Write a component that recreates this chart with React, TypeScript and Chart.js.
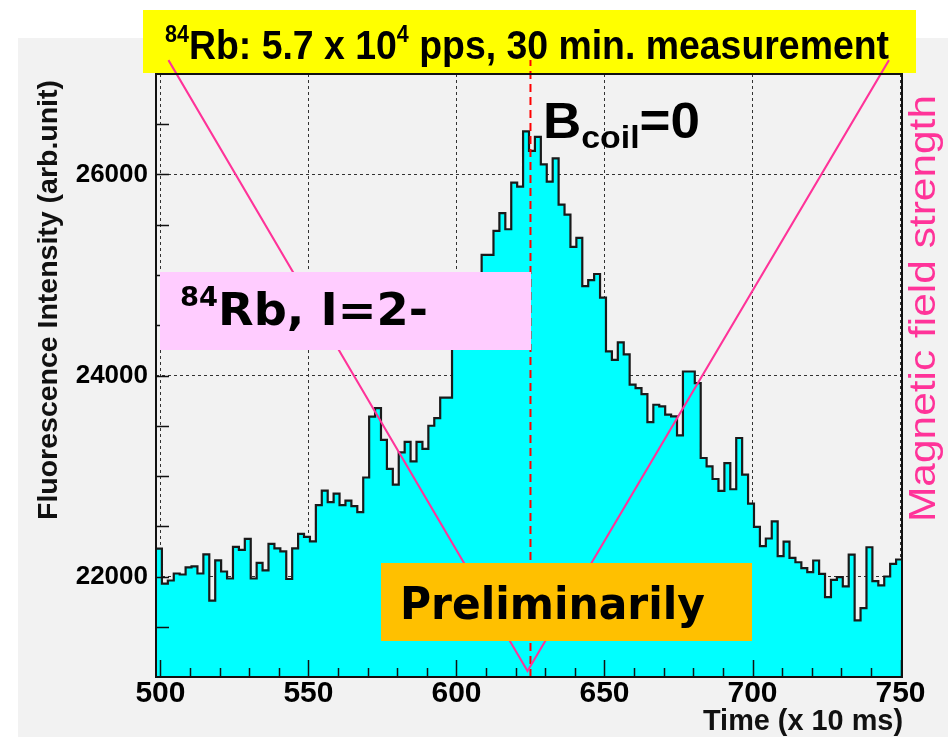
import React, { useEffect, useRef } from "react";
import { Chart, registerables } from "chart.js";

Chart.register(...registerables);

// ---------------- data ----------------
const BIN_START = 498.5;
const BIN_WIDTH = 2;
const COUNTS: number[] = [
  22278, 21930, 21960, 22030, 22020, 22090, 22100, 22030, 22220, 21760,
  22160, 22050, 21980, 22295, 22265, 22375, 21980, 22135, 22060, 22325,
  22280, 22250, 21975, 22280, 22425, 22395, 22350, 22710, 22855, 22740,
  22825, 22710, 22755, 22700, 22640, 22985, 23590, 23675, 23360, 23070,
  22915, 23235, 23340, 23145, 23340, 23270, 23500, 23575, 23780, 23780,
  24400, 24650, 24550, 24850, 24950, 25200, 25200, 25440, 25615, 25455,
  25920, 25880, 26430, 26235, 26375, 26100, 25930, 26160, 25700, 25600,
  25280, 25370, 24890, 24950, 25010, 24775, 24240, 24155, 24330, 24210,
  23910, 23875, 23815, 23537, 23709, 23692, 23610, 23593, 23404, 24040,
  24040, 23924, 23179, 23096, 22970, 22851, 23129, 22868, 23378, 23014,
  22726, 22494, 22302, 22378, 22549, 22202, 22348, 22185, 22142, 22083,
  22043, 22159, 22026, 21795, 21967, 21993, 21901, 22218, 21563, 21686,
  22291, 21954, 21911, 22000, 22126, 22169,
];

const X_MIN = 498.5;
const X_MAX = 750.5;
const Y_MIN = 21000;
const Y_MAX = 27000;
const X_LABEL_VALUES = [500, 550, 600, 650, 700, 750];
const Y_LABEL_VALUES = [22000, 24000, 26000];
const X_MINOR_STEP = 10;
const X_MAJOR_STEP = 50;
const Y_TICK_STEP = 500;

// schematic magnetic field (separate hidden axis, 0..1)
const FIELD_TIMES = [502.7, 624, 746.1];
const FIELD_STRENGTH = [1.023, 0.01, 1.023];

// B_coil = 0 marker
const B_ZERO_TIME = 625;
const B_ZERO_SPAN = [21000, 27140];

const TITLE_SUP = "84";
const TITLE_MAIN_A = "Rb: 5.7 x 10";
const TITLE_SUP2 = "4";
const TITLE_MAIN_B = " pps, 30 min. measurement";
const ISOTOPE_SUP = "84";
const ISOTOPE_TEXT = "Rb, I=2-";
const PRELIM_TEXT = "Preliminarily";
const BCOIL_B = "B";
const BCOIL_SUB = "coil";
const BCOIL_EQ = "=0";
const Y_TITLE = "Fluorescence Intensity (arb.unit)";
const X_TITLE = "Time (x 10 ms)";
const FIELD_TITLE = "Magnetic field strength";

const W = 948;
const H = 737;

type Part = { text: string; font: string; color?: string; dy?: number };

function fitText(
  ctx: CanvasRenderingContext2D,
  parts: Part[],
  x: number,
  y: number,
  width: number,
  rotate = false
) {
  let total = 0;
  for (const p of parts) {
    ctx.font = p.font;
    total += ctx.measureText(p.text).width;
  }
  const sx = width / total;
  ctx.save();
  ctx.translate(x, y);
  if (rotate) ctx.rotate(-Math.PI / 2);
  ctx.scale(sx, 1);
  ctx.textBaseline = "alphabetic";
  ctx.textAlign = "left";
  let cx = 0;
  for (const p of parts) {
    ctx.font = p.font;
    ctx.fillStyle = p.color || "#000";
    ctx.fillText(p.text, cx, p.dy || 0);
    cx += ctx.measureText(p.text).width;
  }
  ctx.restore();
}

const NARROW = "'Liberation Sans Narrow', 'Liberation Sans', Arial, sans-serif";
const ARIAL = "'Liberation Sans', Arial, sans-serif";
const VERDANA = "'DejaVu Sans', Verdana, sans-serif";

const decor = {
  id: "decor",
  beforeDraw(chart: any) {
    const ctx: CanvasRenderingContext2D = chart.ctx;
    ctx.save();
    ctx.fillStyle = "#ffffff";
    ctx.fillRect(0, 0, W, H);
    ctx.fillStyle = "#f2f2f2";
    ctx.fillRect(18, 38, W - 18, H - 38);
    ctx.fillStyle = "#ffff00";
    ctx.fillRect(143, 10, 773, 63);
    ctx.restore();
    fitText(
      ctx,
      [
        { text: TITLE_SUP, font: `bold 23px ${NARROW}`, dy: -17 },
        { text: TITLE_MAIN_A, font: `bold 40px ${NARROW}` },
        { text: TITLE_SUP2, font: `bold 23px ${NARROW}`, dy: -17 },
        { text: TITLE_MAIN_B, font: `bold 40px ${NARROW}` },
      ],
      165,
      59,
      724
    );
  },
  afterDatasetsDraw(chart: any) {
    const ctx: CanvasRenderingContext2D = chart.ctx;
    const { left, right, top, bottom } = chart.chartArea;
    const xs = chart.scales.x;
    const ys = chart.scales.y;
    ctx.save();
    ctx.strokeStyle = "#111";
    ctx.lineWidth = 1.5;
    ctx.beginPath();
    for (let v = X_LABEL_VALUES[0]; v <= X_LABEL_VALUES[X_LABEL_VALUES.length - 1]; v += X_MINOR_STEP) {
      const px = Math.round(xs.getPixelForValue(v)) + 0.5;
      const len = v % X_MAJOR_STEP === 0 ? 17 : 9;
      ctx.moveTo(px, bottom);
      ctx.lineTo(px, bottom - len);
    }
    for (let v = Y_MIN + Y_TICK_STEP; v < Y_MAX; v += Y_TICK_STEP) {
      const py = Math.round(ys.getPixelForValue(v)) + 0.5;
      ctx.moveTo(left, py);
      ctx.lineTo(left + 13, py);
    }
    ctx.stroke();
    ctx.lineWidth = 2;
    ctx.strokeStyle = "#111";
    ctx.strokeRect(left, top, right - left, bottom - top);
    ctx.restore();
  },
  afterDraw(chart: any) {
    const ctx: CanvasRenderingContext2D = chart.ctx;
    ctx.save();
    ctx.fillStyle = "#ffccff";
    ctx.fillRect(160, 272, 371, 78);
    ctx.fillStyle = "#ffc000";
    ctx.fillRect(381, 563, 371, 78);
    ctx.restore();

    fitText(
      ctx,
      [
        { text: ISOTOPE_SUP, font: `bold 26px ${VERDANA}`, dy: -19 },
        { text: ISOTOPE_TEXT, font: `bold 44px ${VERDANA}` },
      ],
      180,
      325,
      248
    );
    fitText(ctx, [{ text: PRELIM_TEXT, font: `bold 44px ${VERDANA}` }], 400, 619, 305);
    fitText(
      ctx,
      [
        { text: BCOIL_B, font: `bold 50px ${ARIAL}` },
        { text: BCOIL_SUB, font: `bold 32px ${ARIAL}`, dy: 10 },
        { text: BCOIL_EQ, font: `bold 50px ${ARIAL}` },
      ],
      543,
      138,
      157
    );
    // axis titles
    fitText(ctx, [{ text: Y_TITLE, font: `bold 28px ${ARIAL}`, color: "#111" }], 57, 520, 440, true);
    fitText(ctx, [{ text: X_TITLE, font: `bold 29px ${ARIAL}`, color: "#111" }], 703, 730, 200);
    fitText(ctx, [{ text: FIELD_TITLE, font: `37px ${ARIAL}`, color: "#ff3399" }], 935, 522, 427, true);
  },
};

export default function App() {
  const ref = useRef<HTMLCanvasElement | null>(null);

  useEffect(() => {
    if (!ref.current) return;
    const hist = COUNTS.map((c, i) => ({ x: BIN_START + i * BIN_WIDTH, y: c }));
    hist.push({ x: BIN_START + COUNTS.length * BIN_WIDTH, y: COUNTS[COUNTS.length - 1] });

    const chart = new Chart(ref.current, {
      type: "line",
      data: {
        datasets: [
          {
            label: "Magnetic field",
            data: FIELD_TIMES.map((t, i) => ({ x: t, y: FIELD_STRENGTH[i] })),
            yAxisID: "yB",
            borderColor: "#ff3399",
            borderWidth: 2,
            pointRadius: 0,
            fill: false,
            clip: false,
            order: 0,
          } as any,
          {
            label: "Bcoil=0",
            data: B_ZERO_SPAN.map((v) => ({ x: B_ZERO_TIME, y: v })),
            yAxisID: "y",
            borderColor: "#ff0000",
            borderWidth: 2,
            borderDash: [8, 5],
            pointRadius: 0,
            fill: false,
            clip: false,
            order: 1,
          } as any,
          {
            label: "Fluorescence",
            data: hist,
            yAxisID: "y",
            stepped: true,
            fill: "start",
            backgroundColor: "#00ffff",
            borderColor: "#1a1a1a",
            borderWidth: 2.2,
            pointRadius: 0,
            order: 2,
          } as any,
        ],
      },
      options: {
        responsive: false,
        animation: false,
        events: [],
        layout: { padding: { left: 0, top: 74, right: 46, bottom: 0 } },
        plugins: { legend: { display: false }, tooltip: { enabled: false }, title: { display: false } },
        scales: {
          x: {
            type: "linear",
            min: X_MIN,
            max: X_MAX,
            afterBuildTicks: (s: any) => {
              s.ticks = X_LABEL_VALUES.map((v) => ({ value: v }));
            },
            afterFit: (s: any) => {
              s.height = 60;
            },
            grid: { color: "#333", lineWidth: 1, drawTicks: false },
            border: { display: false, dash: [3, 3] },
            ticks: {
              font: { family: ARIAL, size: 30, weight: "bold", lineHeight: 1 },
              color: "#000",
              padding: 2,
              maxRotation: 0,
              autoSkip: false,
              callback: (v: any) => String(v),
            },
          },
          y: {
            type: "linear",
            min: Y_MIN,
            max: Y_MAX,
            afterBuildTicks: (s: any) => {
              s.ticks = Y_LABEL_VALUES.map((v) => ({ value: v }));
            },
            afterFit: (s: any) => {
              s.width = 156;
            },
            grid: { color: "#333", lineWidth: 1, drawTicks: false },
            border: { display: false, dash: [3, 3] },
            ticks: {
              font: { family: ARIAL, size: 26, weight: "bold" },
              color: "#000",
              padding: 8,
              callback: (v: any) => String(v),
            },
          },
          yB: { type: "linear", display: false, min: 0, max: 1 },
        },
      } as any,
      plugins: [decor],
    });
    return () => chart.destroy();
  }, []);

  return (
    <div style={{ position: "fixed", left: 0, top: 0, width: W, height: H }}>
      <canvas ref={ref} width={W} height={H} style={{ display: "block" }} />
    </div>
  );
}
